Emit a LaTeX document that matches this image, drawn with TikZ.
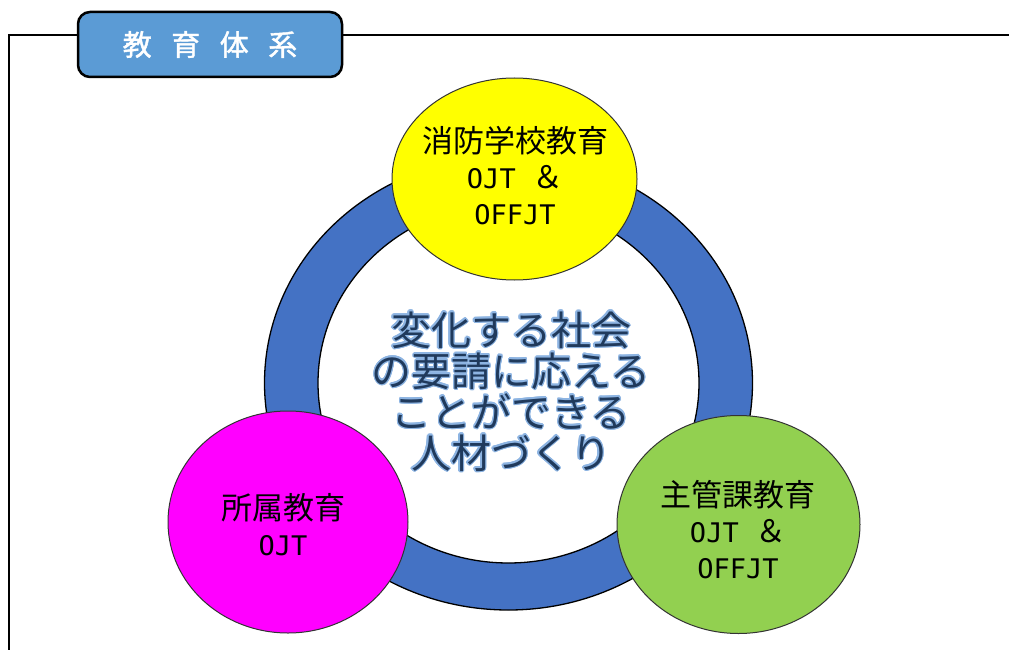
\documentclass[tikz,border=0pt]{standalone}
\usepackage{fontspec}
\newfontfamily\jp{Noto Sans CJK JP}
\newfontfamily\jpb[FakeBold=1.5]{Noto Sans CJK JP}
\newfontfamily\lat{DejaVu Sans Mono}
\usepackage{contour}
\contourlength{1.3pt}
\usetikzlibrary{shapes.geometric}
\definecolor{ringblue}{HTML}{4472C4}
\definecolor{tabblue}{HTML}{5B9BD5}
\definecolor{cyellow}{HTML}{FFFF00}
\definecolor{cmagenta}{HTML}{FF00FF}
\definecolor{cgreen}{HTML}{92D050}
\definecolor{centertext}{HTML}{203A5C}
\definecolor{halo}{HTML}{8DB4E2}
\newcommand{\ltr}[1]{{\lat\fontsize{27}{36}\selectfont #1}}
\newcommand{\hl}[1]{\contour{halo}{#1}}
\tikzset{
  circ/.style={ellipse, draw=black!80, line width=1pt, inner sep=0pt},
  circtext/.style={align=center, inner sep=0pt, font=\jp\fontsize{31}{36}\selectfont, text=black},
  tabbox/.style={draw=black, line width=2.5pt, rounded corners=12pt, fill=tabblue,
    minimum width=264pt, minimum height=65pt, text=white, inner sep=0pt,
    font=\jpb\fontsize{29}{30}\selectfont},
  frameline/.style={line width=2pt, black},
}
\begin{document}
\begin{tikzpicture}[x=1pt,y=-1pt]
\useasboundingbox (0,0) rectangle (1009,650);
\fill[white] (0,0) rectangle (1009,650);
% frame
\coordinate (fr) at (1009,35);
\coordinate (fc) at (9,35);
\coordinate (fb) at (9,650);
\draw[frameline] (fr) -- (fc) -- (fb);
% tab
\node[tabbox] (tab) at (210,44.5) {教\hspace{19.5pt}育\hspace{19.5pt}体\hspace{19.5pt}系};
% ring
\filldraw[fill=ringblue, draw=black, line width=1.3pt, even odd rule]
  (508.5,383) ellipse [x radius=244, y radius=227]
  (508.5,383) ellipse [x radius=190.5, y radius=180];
% center text
\node[align=center, text=centertext, font=\jp\fontsize{40}{41}\selectfont] (center) at (511,392)
  {\hl{変化する社会}\\\hl{の要請に応える}\\\hl{ことができる}\\\hl{人材づくり}};
% circles
\node[circ, fill=cyellow, minimum width=245pt, minimum height=202pt] (school) at (514.5,179) {};
\node[circtext] (schooltext) at (515,176) {消防学校教育\\\ltr{OJT }＆\\\ltr{OFFJT}};
\node[circ, fill=cmagenta, minimum width=240pt, minimum height=222pt] (dept) at (288,522) {};
\node[circtext] (depttext) at (283,525) {所属教育\\\ltr{OJT}};
\node[circ, fill=cgreen, minimum width=243pt, minimum height=218pt] (main) at (738.5,524.5) {};
\node[circtext] (maintext) at (738,530) {主管課教育\\\ltr{OJT }＆\\\ltr{OFFJT}};
\end{tikzpicture}
\end{document}
